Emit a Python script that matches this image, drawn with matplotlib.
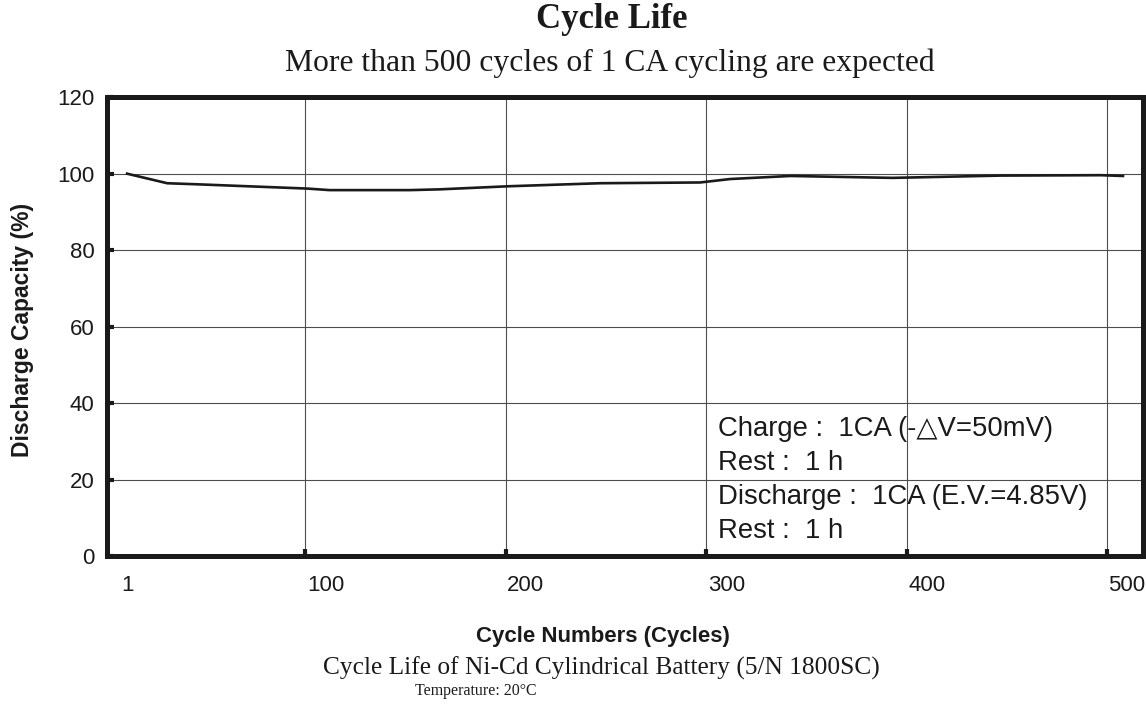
import matplotlib
matplotlib.use("Agg")
import matplotlib.pyplot as plt
from matplotlib.ticker import FixedLocator, NullFormatter

# data
cycles = [1, 21, 37, 91, 102, 142, 157, 191, 237, 287, 302, 332, 383, 437, 487, 498]
capacity = [100, 97.5, 97.2, 96.1, 95.7, 95.7, 95.9, 96.7, 97.5, 97.7, 98.6, 99.4, 98.9, 99.5, 99.6, 99.4]

grid_x = [90, 190, 290, 390, 490]
xtick_labels = [1, 100, 200, 300, 400, 500]
yticks = [0, 20, 40, 60, 80, 100, 120]

cond_lines = ["Charge :  1CA (-\u25b3V=50mV)", "Rest :  1 h",
              "Discharge :  1CA (E.V.=4.85V)", "Rest :  1 h"]

sans = ["Liberation Sans", "DejaVu Sans"]
serif = ["Liberation Serif", "DejaVu Serif"]
ink = "#1a1a1a"

fig = plt.figure(figsize=(11.46, 7.08), dpi=100)
ax = fig.add_axes([0.0934, 0.2147, 0.904, 0.648])

ax.plot(cycles, capacity, color=ink, lw=1.9, solid_joinstyle="round")

ax.set_xlim(-9, 508)
ax.set_ylim(0, 120)

# gridlines
for gx in grid_x:
    ax.axvline(gx, color="0.3", lw=0.8, zorder=0)
for gy in yticks[1:-1]:
    ax.axhline(gy, color="0.3", lw=0.8, zorder=0)

ax.xaxis.set_major_locator(FixedLocator(grid_x))
ax.xaxis.set_major_formatter(NullFormatter())
ax.xaxis.set_minor_locator(FixedLocator(xtick_labels))
ax.set_xticklabels([str(v) for v in xtick_labels], minor=True)
ax.tick_params(axis="x", which="major", direction="in", length=5, width=3, color=ink)
ax.tick_params(axis="x", which="minor", length=0, pad=14, labelsize=16, labelcolor=ink)
for lab in ax.get_xticklabels(minor=True):
    lab.set_family(sans)

ax.set_yticks(yticks)
ax.set_yticklabels([str(v) for v in yticks])
ax.tick_params(axis="y", direction="in", length=5, width=3, color=ink, pad=9,
               labelsize=16, labelcolor=ink)
for lab in ax.get_yticklabels():
    lab.set_family(sans)

for sp in ax.spines.values():
    sp.set_linewidth(3.6)
    sp.set_color(ink)

# test conditions
ax.text(296, 19.9, "\n".join(cond_lines), family=sans, fontsize=19.8, color=ink,
        va="center", ha="left", linespacing=1.41)

# titles and captions
fig.text(0.534, 0.972, "Cycle Life", family=serif, fontsize=25, weight="bold",
         ha="center", va="center", color=ink)
fig.text(0.532, 0.910, "More than 500 cycles of 1 CA cycling are expected",
         family=serif, fontsize=22.8, ha="center", va="center", color=ink)
fig.text(0.020, 0.534, "Discharge Capacity (%)", family=sans, fontsize=16.5,
         weight="bold", rotation=90, ha="center", va="center", color=ink)
fig.text(0.526, 0.101, "Cycle Numbers (Cycles)", family=sans, fontsize=16,
         weight="bold", ha="center", va="center", color=ink)
fig.text(0.525, 0.056, "Cycle Life of Ni-Cd Cylindrical Battery (5/N 1800SC)",
         family=serif, fontsize=18.3, ha="center", va="center", color=ink)
fig.text(0.415, 0.024, "Temperature: 20\u00b0C", family=serif, fontsize=11.4,
         ha="center", va="center", color=ink)

fig.savefig("out.png", dpi=100)
